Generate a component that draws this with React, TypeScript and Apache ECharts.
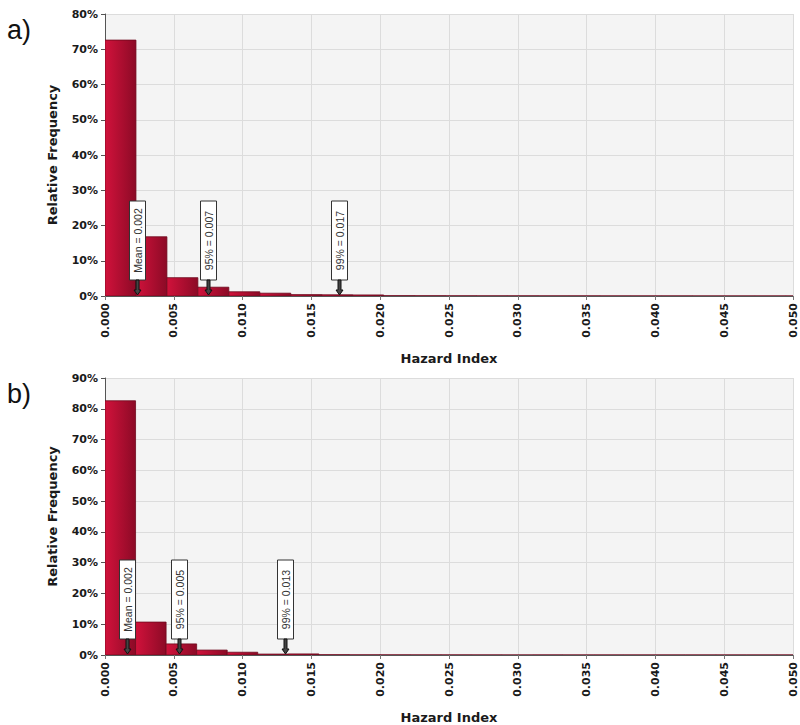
import React, { useEffect, useRef } from "react";
import * as echarts from "echarts";

// ---- data ----
const panelLabels = ["a)", "b)"];
const xTickStep = 0.005;
const xMax = 0.05;
const yMaxA = 80;
const yMaxB = 90;

const binWidthA = 0.00225;
const freqA = [72.6, 16.8, 5.2, 2.5, 1.2, 0.8, 0.4, 0.35, 0.3, 0.1, 0.08, 0.06, 0.05, 0.05, 0.04, 0.04, 0.03, 0.03, 0.03, 0.02, 0.02, 0.02, 0.02];
const markerLabelsA = ["Mean = 0.002", "95% = 0.007", "99% = 0.017"];
const markerPosA = [0.0023, 0.0075, 0.017];

const binWidthB = 0.00222;
const freqB = [82.6, 10.7, 3.6, 1.6, 0.9, 0.3, 0.35, 0.1, 0.06, 0.05, 0.04, 0.04, 0.03, 0.03, 0.03, 0.02, 0.02, 0.02, 0.02, 0.02, 0.02, 0.02, 0.02];
const markerLabelsB = ["Mean = 0.002", "95% = 0.005", "99% = 0.013"];
const markerPosB = [0.0016, 0.0054, 0.0131];

const xTitle = "Hazard Index";
const yTitle = "Relative Frequency";

function bins(width: number, freq: number[]) {
  return freq.map((v, i) => [i * width, (i + 1) * width, v]);
}

export default function App() {
  const ref = useRef<HTMLDivElement>(null);
  useEffect(() => {
    if (!ref.current) return;
    const chart = echarts.init(ref.current, undefined, { renderer: "svg" });

    const barFill = new echarts.graphic.LinearGradient(0, 0, 1, 0, [
      { offset: 0, color: "#d1123b" },
      { offset: 1, color: "#8c0a26" },
    ]);

    const histItem = (params: any, api: any) => {
      const x0 = api.value(0);
      const x1 = api.value(1);
      const v = api.value(2);
      const p0 = api.coord([x0, v]);
      const p1 = api.coord([x1, 0]);
      const cs = params.coordSys;
      const shape = echarts.graphic.clipRectByRect(
        { x: p0[0], y: p0[1], width: p1[0] - p0[0], height: p1[1] - p0[1] },
        { x: cs.x, y: cs.y, width: cs.width, height: cs.height }
      );
      if (!shape) return null;
      return {
        type: "rect",
        shape,
        style: { fill: barFill, stroke: "#6e0a1e", lineWidth: 0.8 },
      };
    };

    const markerItem = (labels: string[]) => (params: any, api: any) => {
      const p = api.coord([api.value(0), 0]);
      const px = Math.round(p[0]) + 0.5;
      const base = p[1];
      const boxH = 79;
      const arrowH = 16;
      const boxTop = base - arrowH - boxH;
      return {
        type: "group",
        children: [
          {
            type: "rect",
            shape: { x: px - 8, y: boxTop, width: 16, height: boxH },
            style: { fill: "#ffffff", stroke: "#333333", lineWidth: 1 },
          },
          {
            type: "text",
            x: px,
            y: boxTop + boxH / 2,
            rotation: Math.PI / 2,
            style: {
              text: labels[params.dataIndex],
              fontFamily: "Liberation Sans, Arial, sans-serif",
              fontSize: 10.5,
              fill: "#333333",
              align: "center",
              verticalAlign: "middle",
            },
          },
          {
            type: "polygon",
            shape: {
              points: [
                [px - 1.5, base - arrowH],
                [px + 1.5, base - arrowH],
                [px + 1.5, base - 6],
                [px + 3.5, base - 6],
                [px, base - 1],
                [px - 3.5, base - 6],
                [px - 1.5, base - 6],
              ],
            },
            style: { fill: "#444444", stroke: "#111111", lineWidth: 1 },
          },
        ],
      };
    };

    const labelFont = {
      fontFamily: "DejaVu Sans, sans-serif",
      fontWeight: "bold" as const,
      fontSize: 11,
      color: "#1a1a1a",
    };
    const titleFont = {
      fontFamily: "DejaVu Sans, sans-serif",
      fontWeight: "bold" as const,
      fontSize: 13,
      color: "#1a1a1a",
    };

    const grids = [
      { left: 105, width: 688, top: 14, height: 282 },
      { left: 105, width: 688, top: 378, height: 283 },
    ].map((g) => ({
      ...g,
      show: true,
      backgroundColor: "#f4f4f4",
      borderWidth: 0,
    }));

    const mkX = (gi: number) => ({
      type: "value",
      gridIndex: gi,
      min: 0,
      max: xMax,
      interval: xTickStep,
      name: xTitle,
      nameLocation: "middle",
      nameGap: 56,
      nameTextStyle: titleFont,
      axisLine: { show: true, lineStyle: { color: "#555555", width: 1 } },
      axisTick: { show: true, length: 4, lineStyle: { color: "#777777" } },
      axisLabel: {
        ...labelFont,
        rotate: 90,
        margin: 7,
        formatter: (v: number) => v.toFixed(3),
      },
      splitLine: { show: true, lineStyle: { color: "#dcdcdc", width: 1 } },
    });

    const mkY = (gi: number, max: number) => ({
      type: "value",
      gridIndex: gi,
      min: 0,
      max,
      interval: 10,
      name: yTitle,
      nameLocation: "middle",
      nameGap: 46,
      nameTextStyle: titleFont,
      axisLine: { show: true, lineStyle: { color: "#555555", width: 1 } },
      axisTick: { show: true, length: 4, lineStyle: { color: "#555555" } },
      axisLabel: { ...labelFont, margin: 7, formatter: "{value}%" },
      splitLine: { show: true, lineStyle: { color: "#dcdcdc", width: 1 } },
    });

    chart.setOption({
      animation: false,
      backgroundColor: "#ffffff",
      grid: grids,
      xAxis: [mkX(0), mkX(1)],
      yAxis: [mkY(0, yMaxA), mkY(1, yMaxB)],
      series: [
        {
          type: "custom",
          xAxisIndex: 0,
          yAxisIndex: 0,
          renderItem: histItem,
          encode: { x: [0, 1], y: 2 },
          data: bins(binWidthA, freqA),
          clip: true,
          z: 2,
        },
        {
          type: "custom",
          xAxisIndex: 1,
          yAxisIndex: 1,
          renderItem: histItem,
          encode: { x: [0, 1], y: 2 },
          data: bins(binWidthB, freqB),
          clip: true,
          z: 2,
        },
        {
          type: "custom",
          xAxisIndex: 0,
          yAxisIndex: 0,
          renderItem: markerItem(markerLabelsA),
          encode: { x: 0 },
          data: markerPosA.map((v) => [v]),
          z: 5,
        },
        {
          type: "custom",
          xAxisIndex: 1,
          yAxisIndex: 1,
          renderItem: markerItem(markerLabelsB),
          encode: { x: 0 },
          data: markerPosB.map((v) => [v]),
          z: 5,
        },
      ],
      graphic: [
        {
          type: "text",
          left: 7,
          top: 16,
          style: {
            text: panelLabels[0],
            fontFamily: "Liberation Sans, Arial, sans-serif",
            fontSize: 27,
            fill: "#111111",
          },
        },
        {
          type: "text",
          left: 7,
          top: 380,
          style: {
            text: panelLabels[1],
            fontFamily: "Liberation Sans, Arial, sans-serif",
            fontSize: 27,
            fill: "#111111",
          },
        },
      ],
    });
    return () => chart.dispose();
  }, []);

  return (
    <div
      ref={ref}
      style={{ position: "fixed", left: 0, top: 0, width: 800, height: 725, background: "#fff" }}
    />
  );
}
